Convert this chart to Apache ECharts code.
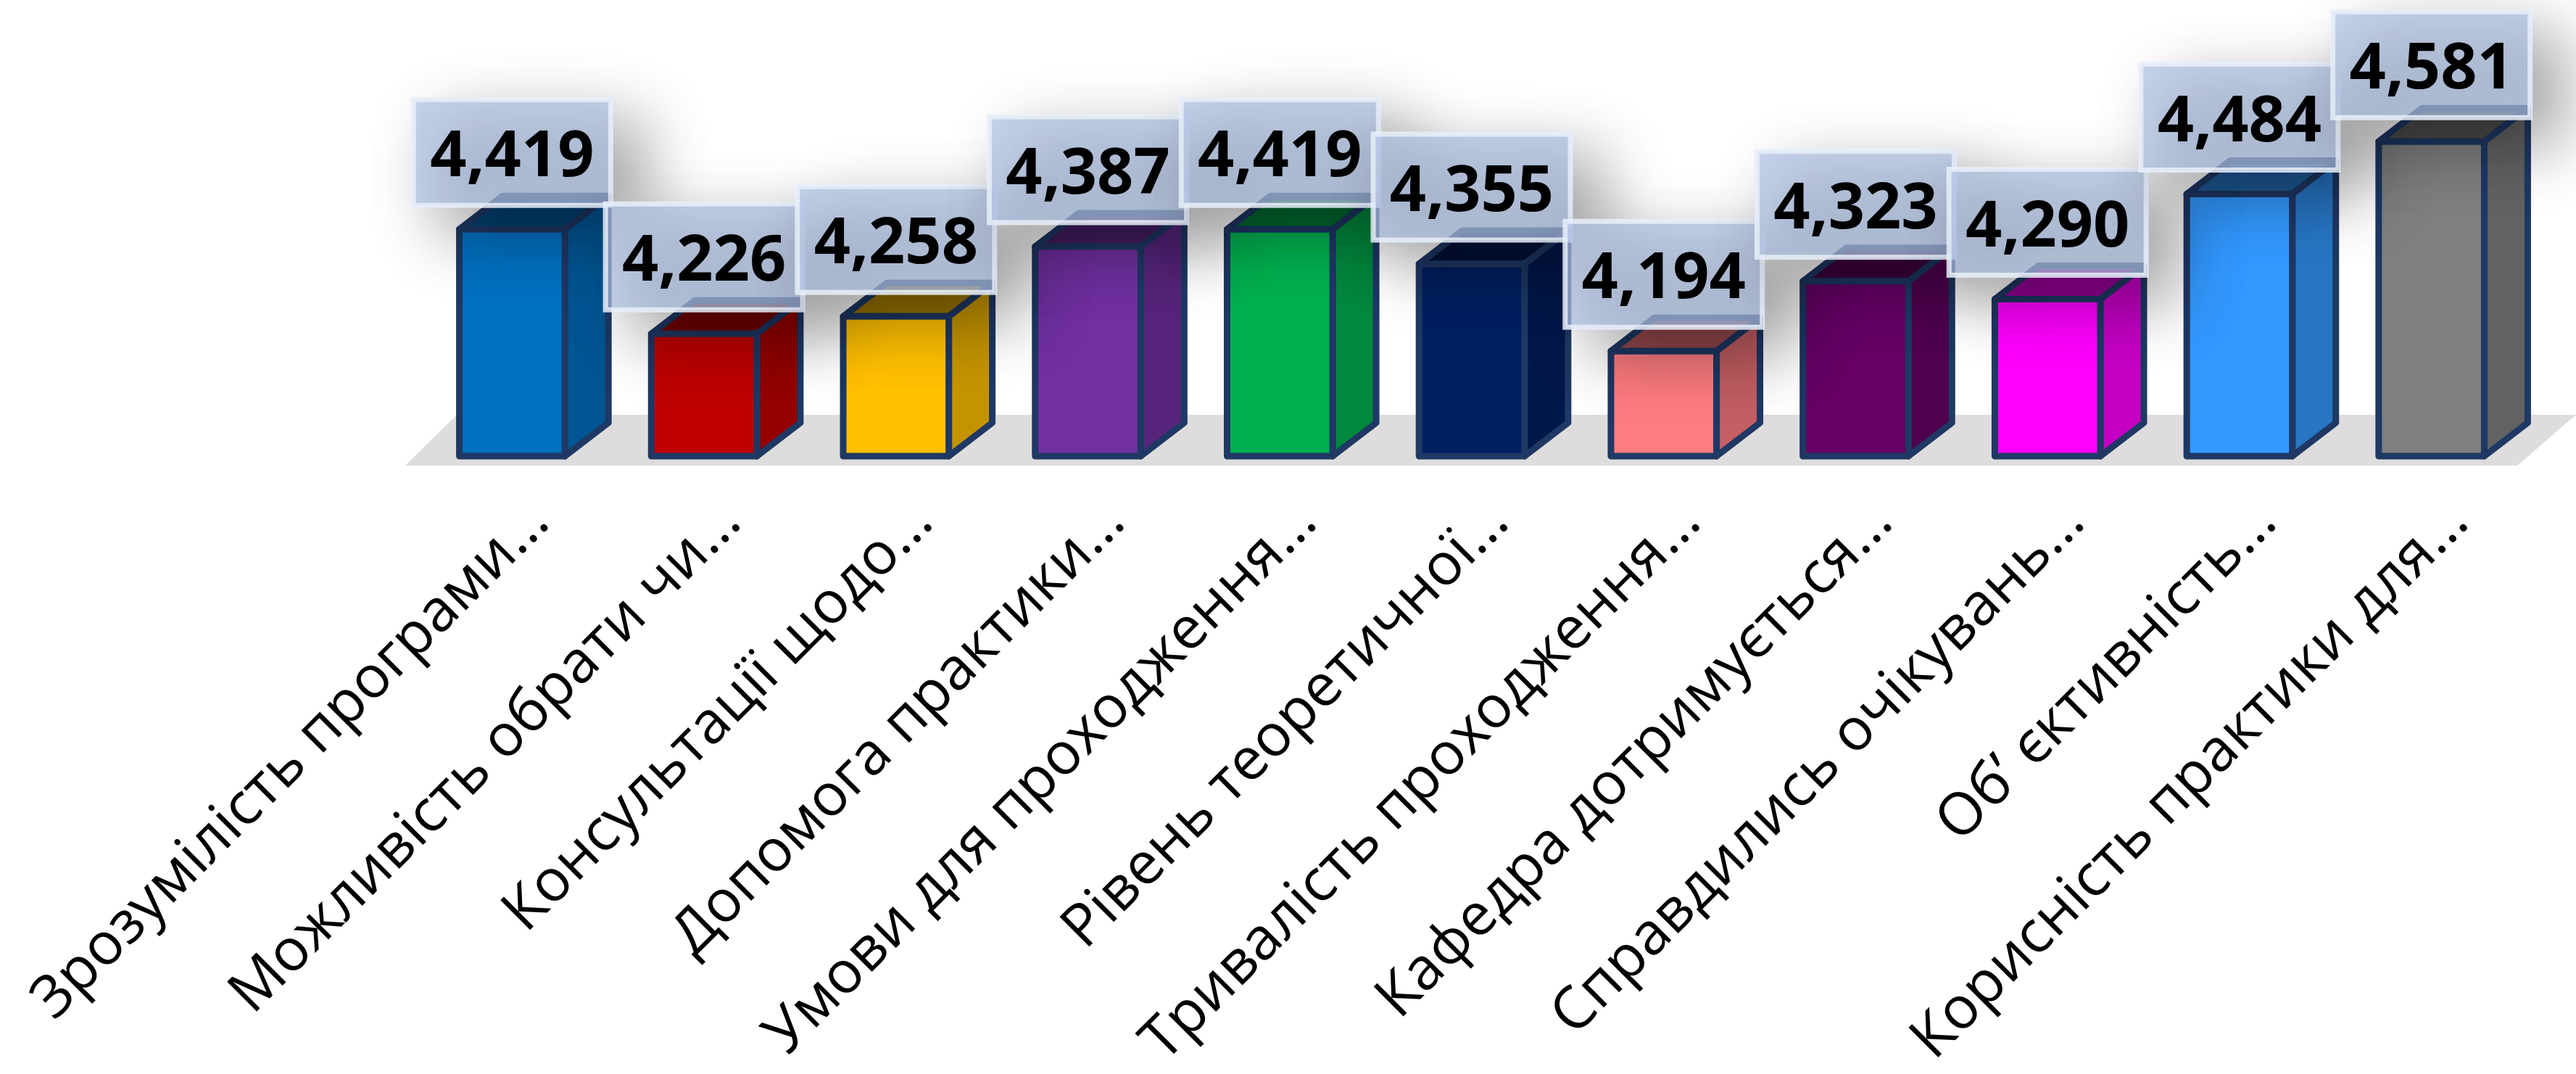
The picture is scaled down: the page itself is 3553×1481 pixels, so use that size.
<!DOCTYPE html>
<html><head><meta charset="utf-8">
<style>html,body{margin:0;padding:0;background:#fff}#c{width:3553px;height:1481px}</style>
<script src="https://cdn.jsdelivr.net/npm/echarts@6/dist/echarts.min.js"></script>
</head><body><div id="c"></div>
<script>
const categories = ['Зрозумілість програми…','Можливість обрати чи…','Консультації щодо…','Допомога практики…','Умови для проходження…','Рівень теоретичної…','Тривалість проходження…','Кафедра дотримується…','Справдились очікувань…','Об\u2019 єктивність…','Корисність практики для…'];
const values = [4.419,4.226,4.258,4.387,4.419,4.355,4.194,4.323,4.290,4.484,4.581];
const colors = ['#0070c0','#c00000','#ffc000','#7030a0','#00b050','#002060','#ff7c80','#660066','#ff00ff','#3399ff','#7f7f7f'];

const DX = 60, DY = 46, EDGE = '#1f3864', EW = 9, BOXW = 272, BOXH = 146, GAP = 33;
function shade(hex, k){
  const n = parseInt(hex.slice(1),16);
  const f = s => Math.round(((n>>s)&255)*k);
  return `rgb(${f(16)},${f(8)},${f(0)})`;
}
function barItem(params, api){
  const i = api.value(0), v = api.value(1);
  const top = api.coord([i, v]), base = api.coord([i, 4]);
  const w = api.size([1,0])[0]*0.55, x0 = top[0]-w/2, x1 = top[0]+w/2, y0 = top[1], y1 = base[1];
  const c = colors[i];
  const st = f => ({fill:f, stroke:EDGE, lineWidth:EW, lineJoin:'round'});
  return {type:'group', children:[
    {type:'polygon', shape:{points:[[x0,y0],[x1,y0],[x1+DX,y0-DY],[x0+DX,y0-DY]]}, style:st(shade(c,.6))},
    {type:'polygon', shape:{points:[[x1,y0],[x1+DX,y0-DY],[x1+DX,y1-DY],[x1,y1]]}, style:st(shade(c,.77))},
    {type:'rect', shape:{x:x0,y:y0,width:w,height:y1-y0}, style:st(c)}
  ]};
}
function labelItem(params, api){
  const i = api.value(0), v = api.value(1);
  const top = api.coord([i, v]);
  const bx = top[0]-BOXW/2, by = top[1]-GAP-BOXH;
  return {type:'group', children:[
    {type:'rect', shape:{x:bx,y:by,width:BOXW,height:BOXH},
     style:{fill:'rgba(176,195,230,0.72)', stroke:'rgba(232,238,249,0.85)', lineWidth:7,
            shadowColor:'rgba(0,0,0,0.5)', shadowBlur:90, shadowOffsetX:40, shadowOffsetY:34}},
    {type:'text', style:{x:top[0], y:by+BOXH/2+8, text:v.toFixed(3).replace('.',','),
     fill:'#000', font:'bold 88px "Open Sans"', align:'center', verticalAlign:'middle'}}
  ]};
}
const data = values.map((v,i)=>[i,v]);
const chart = echarts.init(document.getElementById('c'), null, {renderer:'canvas', devicePixelRatio:1});
chart.setOption({
  animation:false,
  backgroundColor:'#fff',
  graphic:[{type:'polygon', z:0, silent:true,
    shape:{points:[[559,642],[630,572],[3553,572],[3472,642]]}, style:{fill:'#dedcdd'}}],
  grid:[
    {left:574, width:2912, top:181, height:448},
    {left:612, width:2912, top:181, height:448}
  ],
  xAxis:[
    {type:'category', gridIndex:0, data:categories, axisLine:{show:false}, axisTick:{show:false}, axisLabel:{show:false}},
    {type:'category', gridIndex:1, data:categories, axisLine:{show:false}, axisTick:{show:false},
     axisLabel:{show:true, interval:0, rotate:45, margin:80, fontFamily:'Open Sans', fontSize:81, color:'#000', align:'right', verticalAlign:'middle', hideOverlap:false}}
  ],
  yAxis:[
    {type:'value', gridIndex:0, min:4, max:4.6, show:false},
    {type:'value', gridIndex:1, min:4, max:4.6, show:false}
  ],
  series:[
    {type:'custom', name:'bars', xAxisIndex:0, yAxisIndex:0, z:2, clip:false, renderItem:barItem, data, encode:{x:0,y:1}},
    {type:'custom', name:'labels', xAxisIndex:0, yAxisIndex:0, z:3, clip:false, renderItem:labelItem, data, encode:{x:0,y:1}}
  ]
});
</script></body></html>
